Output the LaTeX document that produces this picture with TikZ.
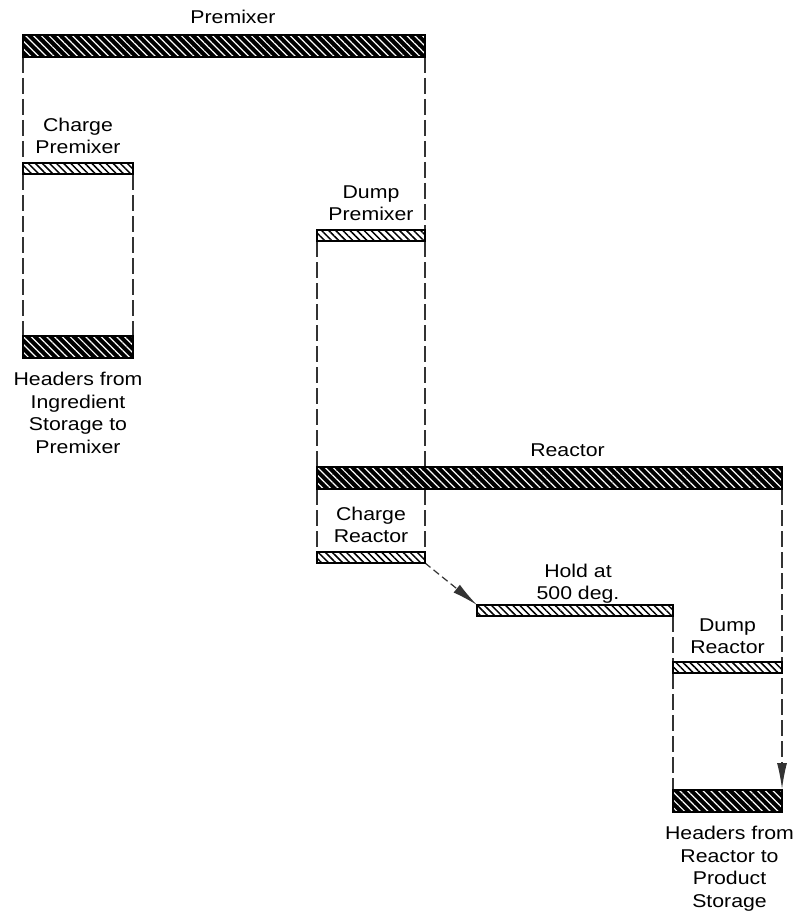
\documentclass[tikz,border=0pt]{standalone}
\usepackage{fontspec}
\setmainfont{Liberation Sans}[FakeStretch=1.15]
\usetikzlibrary{patterns.meta,arrows.meta,backgrounds,positioning}

\tikzset{
  bar/.style={draw=black, line width=1.3pt, inner sep=0pt, anchor=north west, outer sep=0pt},
  heavybar/.style={bar, minimum height=22pt,
    preaction={fill=black},
    pattern={Lines[angle=-45, distance=5.5pt, line width=1.2pt]}, pattern color=white},
  lightbar/.style={bar, minimum height=11pt, fill=white,
    postaction={pattern={Lines[angle=-45, distance=5pt, line width=1.5pt]}, pattern color=black}},
  lbl/.style={font=\fontsize{18.5}{22.5}\selectfont, align=center, inner sep=0pt, text depth=0pt},
  conn/.style={draw=black!80, line width=1.2pt, dash pattern=on 16pt off 5pt},
  flow/.style={conn, -{Latex[length=26pt, width=10pt]}},
}

\begin{document}
\begin{tikzpicture}[x=1pt, y=-1pt]
  \useasboundingbox (0,0) rectangle (798,920);

  % vessels and operations
  \node[heavybar, minimum width=402pt] (premixer) at (23,35) {};
  \node[lightbar, minimum width=110pt] (chgP) at (23,163) {};
  \node[lightbar, minimum width=108pt] (dmpP) at (317,230) {};
  \node[heavybar, minimum width=110pt] (hdrIn) at (23,336) {};
  \node[heavybar, minimum width=465pt] (reactor) at (317,467) {};
  \node[lightbar, minimum width=108pt] (chgR) at (317,552) {};
  \node[lightbar, minimum width=196pt] (hold) at (477,605) {};
  \node[lightbar, minimum width=109pt] (dmpR) at (673,662) {};
  \node[heavybar, minimum width=109pt] (hdrOut) at (673,790) {};

  % labels
  \node[lbl, above=11pt of premixer, xshift=9pt] {Premixer};
  \node[lbl, above=9pt of chgP] {Charge\\Premixer};
  \node[lbl, above=9pt of dmpP] {Dump\\Premixer};
  \node[lbl, below=14pt of hdrIn, anchor=north] {Headers from\\Ingredient\\Storage to\\Premixer};
  \node[lbl, above=10pt of reactor, xshift=18pt] {Reactor};
  \node[lbl, above=9pt of chgR] {Charge\\Reactor};
  \node[lbl, above=5pt of hold, xshift=3pt] {Hold at\\500 deg.};
  \node[lbl, above=8pt of dmpR] {Dump\\Reactor};
  \node[lbl, below=14pt of hdrOut, xshift=2pt] {Headers from\\Reactor to\\Product\\Storage};

  % time links between the bars
  \begin{scope}[on background layer]
    \fill[white] (0,0) rectangle (798,920);
    \draw[conn] (premixer.south west) -- (chgP.north west);
    \draw[conn] (chgP.south west) -- (hdrIn.north west);
    \draw[conn] (chgP.south east) -- (hdrIn.north east);
    \draw[conn] (premixer.south east) -- (dmpP.north east);
    \draw[conn] (dmpP.south west) -- (reactor.north west);
    \draw[conn] (dmpP.south east) -- (dmpP.south east |- reactor.north);
    \draw[conn] (reactor.south west) -- (chgR.north west);
    \draw[conn] (chgR.north east |- reactor.south) -- (chgR.north east);
    \draw[flow, dash pattern=on 7pt off 4pt] (chgR.south east) -- (hold.north west);
    \draw[conn] (hold.south east) -- (dmpR.north west);
    \draw[conn] (dmpR.south west) -- (hdrOut.north west);
    \draw[flow] (reactor.south east) -- ([yshift=1pt]hdrOut.north east);
  \end{scope}
\end{tikzpicture}
\end{document}
